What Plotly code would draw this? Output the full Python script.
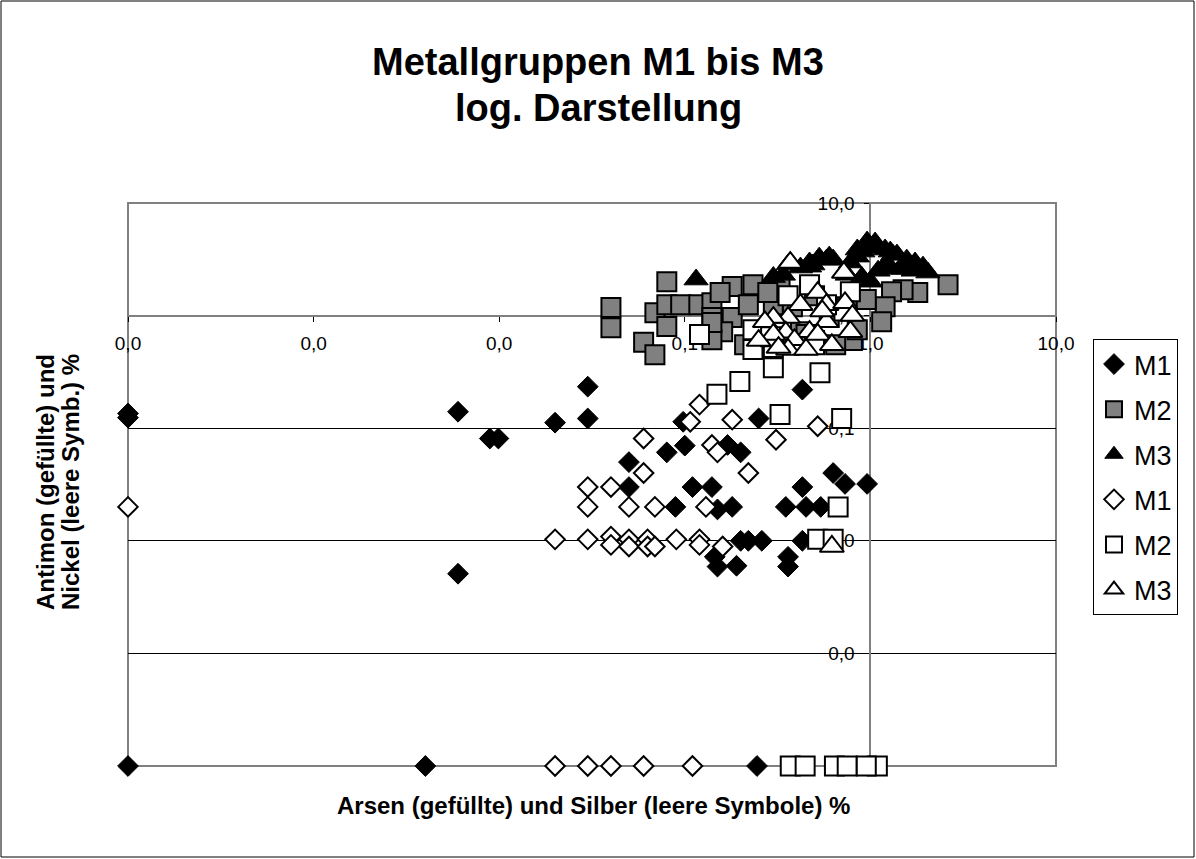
import plotly.graph_objects as go

# ---- data ----
m1_fill_x = [0.0001, 0.0001, 0.006, 0.006, 0.0089, 0.0099, 0.020, 0.030, 0.030, 0.050, 0.050, 0.098, 0.10, 0.080,
             0.43, 0.25, 0.17, 0.20, 0.11, 0.14, 0.089, 0.15, 0.18, 0.35, 0.45, 0.54, 0.43, 0.63, 0.73, 0.96,
             0.20, 0.22, 0.26, 0.43, 0.145, 0.15, 0.19, 0.36, 0.36, 0.0001, 0.004, 0.245]
m1_fill_y = [0.135, 0.124, 0.14, 0.0051, 0.081, 0.081, 0.112, 0.234, 0.122, 0.050, 0.030, 0.114, 0.070, 0.061,
             0.22, 0.122, 0.071, 0.061, 0.030, 0.030, 0.020, 0.019, 0.020, 0.020, 0.020, 0.020, 0.030, 0.040, 0.032, 0.032,
             0.010, 0.010, 0.010, 0.010, 0.0072, 0.0059, 0.006, 0.0072, 0.0059, 0.0001, 0.0001, 0.0001]

m2_fill_x = [0.04, 0.04, 0.08, 0.069, 0.08, 0.095, 0.119, 0.08, 0.06, 0.069, 0.14, 0.14, 0.18, 0.233, 0.18,
             0.16, 0.14, 0.22, 0.21, 0.326, 0.155, 0.14, 2.62, 1.8, 1.5, 1.3, 1.2, 1.15, 0.25, 0.3, 0.42, 0.6,
             0.75, 0.95, 0.8, 0.3, 0.38, 0.5, 0.28, 0.45, 0.65, 0.85, 0.26, 0.5]
m2_fill_y = [1.18, 0.78, 2.0, 1.06, 1.25, 1.25, 1.25, 0.80, 0.58, 0.45, 1.3, 0.96, 1.81, 1.88, 0.96,
             0.72, 0.61, 1.25, 0.55, 2.0, 1.6, 0.87, 1.88, 1.6, 1.7, 1.63, 1.2, 0.88, 0.55, 0.6, 0.72, 0.96,
             1.2, 1.39, 0.6, 1.25, 1.2, 1.5, 1.6, 0.68, 0.55, 0.75, 0.5, 0.6]

m3_fill_x = [0.115, 0.53, 0.63, 0.47, 0.96, 0.85, 1.09, 1.28, 1.32, 0.6, 0.78, 1.06, 1.2, 1.39, 1.57, 1.74,
             1.92, 2.04, 0.47, 0.58, 0.85, 0.91, 0.36, 0.42, 0.49, 0.3, 0.34, 0.75, 0.9, 1.1, 1.3, 1.0, 1.2, 1.5, 1.7]
m3_fill_y = [2.09, 3.27, 3.14, 2.96, 4.54, 3.86, 4.0, 3.7, 3.48, 3.34, 2.96, 4.45, 3.86, 3.48, 3.14, 2.96,
             2.72, 2.41, 2.72, 3.14, 3.34, 3.7, 2.84, 2.67, 2.84, 2.2, 2.3, 2.3, 2.2, 2.5, 2.6, 2.0, 2.8, 2.6, 2.5]

m1_open_x = [0.0001, 0.06, 0.06, 0.030, 0.040, 0.030, 0.050, 0.069, 0.020, 0.030, 0.040, 0.040, 0.050, 0.050,
             0.063, 0.063, 0.069, 0.090, 0.12, 0.12, 0.16, 0.12, 0.107, 0.18, 0.31, 0.14, 0.15, 0.22, 0.52, 0.13,
             0.020, 0.030, 0.040, 0.060, 0.11]
m1_open_y = [0.020, 0.081, 0.040, 0.030, 0.030, 0.020, 0.020, 0.020, 0.0103, 0.0103, 0.0109, 0.0092, 0.0103, 0.0089,
             0.0103, 0.0089, 0.0089, 0.0103, 0.0103, 0.0092, 0.0089, 0.162, 0.114, 0.119, 0.079, 0.071, 0.061, 0.040, 0.104, 0.020,
             0.0001, 0.0001, 0.0001, 0.0001, 0.0001]

m2_open_x = [0.198, 0.149, 0.535, 0.30, 0.326, 0.70, 0.67, 0.52, 0.63, 0.12, 0.233, 0.233, 0.47, 0.78, 0.36,
             0.5, 0.3, 0.72, 0.29, 0.58, 0.37, 0.445, 0.64, 0.75, 1.09, 0.95]
m2_open_y = [0.26, 0.20, 0.31, 0.345, 0.132, 0.122, 0.020, 0.0103, 0.0103, 0.68, 0.50, 0.75, 1.88, 1.63, 1.5,
             0.55, 0.52, 1.1, 0.65, 1.25, 0.0001, 0.0001, 0.0001, 0.0001, 0.0001, 0.0001]

m3_open_x = [0.37, 0.72, 0.52, 0.42, 0.36, 0.30, 0.58, 0.73, 0.27, 0.35, 0.47, 0.58, 0.78, 0.30, 0.39, 0.36,
             0.45, 0.52, 0.32, 0.62, 0.55, 0.80, 0.25, 0.62]
m3_open_y = [2.96, 2.41, 1.6, 1.25, 0.96, 0.96, 1.25, 1.30, 0.88, 0.71, 0.72, 0.88, 0.72, 0.68, 0.61, 0.50,
             0.50, 0.68, 0.52, 0.55, 1.1, 1.0, 0.60, 0.0089]

tick_vals = [0.0001, 0.001, 0.01, 0.1, 1, 10]
tick_text = ["0,0", "0,0", "0,0", "0,1", "1,0", "10,0"]

title_line1 = "Metallgruppen M1 bis M3"
title_line2 = "log. Darstellung"
x_title = "Arsen (gefüllte) und Silber (leere Symbole) %"
y_title_line1 = "Antimon (gefüllte) und"
y_title_line2 = "Nickel (leere Symb.) %"

FONT = "Arial, Liberation Sans, sans-serif"

series = [
    ("M1", m1_fill_x, m1_fill_y, "diamond", 16, "black", 1),
    ("M2", m2_fill_x, m2_fill_y, "square", 19, "#808080", 2),
    ("M3", m3_fill_x, m3_fill_y, "triangle-up", 21, "black", 1),
    ("M1", m1_open_x, m1_open_y, "diamond", 15, "white", 2),
    ("M2", m2_open_x, m2_open_y, "square", 19, "white", 2),
    ("M3", m3_open_x, m3_open_y, "triangle-up", 21, "white", 2),
]

fig = go.Figure()
for i, (name, xs, ys, sym, size, color, lw) in enumerate(series):
    assert len(xs) == len(ys)
    fig.add_trace(go.Scatter(
        x=xs, y=ys, mode="markers", name=name, legendgroup=f"g{i}",
        cliponaxis=False,
        marker=dict(symbol=sym, size=size, color=color, line=dict(color="black", width=lw)),
    ))

# plot area: x 128..1056 px, y 203..766 px
PL, PW, PB, PH = 128, 928, 766, 563


def px(xp):
    return (xp - PL) / PW


def py(yp):
    return (PB - yp) / PH


fig.update_layout(
    width=1196, height=859,
    margin=dict(l=128, r=140, t=203, b=93),
    paper_bgcolor="white", plot_bgcolor="white",
    font=dict(family=FONT, color="black"),
    showlegend=True,
    legend=dict(
        x=px(1093), y=py(339), xanchor="left", yanchor="top",
        bordercolor="black", borderwidth=1,
        font=dict(family=FONT, size=27, color="black"),
        tracegroupgap=7, itemsizing="trace",
    ),
    xaxis=dict(
        type="log", range=[-4, 1], anchor="free", position=0.8,
        tickvals=tick_vals, ticktext=tick_text, ticks="outside", ticklen=5,
        tickcolor="black", showline=True, linecolor="#808080", linewidth=2,
        showgrid=False, zeroline=False, layer="below traces",
        tickfont=dict(family=FONT, size=19, color="black"),
        ticklabelstandoff=6,
    ),
    yaxis=dict(
        type="log", range=[-4, 1], anchor="free", position=0.8,
        tickvals=tick_vals, ticktext=tick_text, ticks="outside", ticklen=5,
        tickcolor="black", showline=True, linecolor="#808080", linewidth=2,
        showgrid=True, gridcolor="black", gridwidth=1, zeroline=False, layer="below traces",
        tickfont=dict(family=FONT, size=19, color="black"),
        ticklabelstandoff=6,
    ),
    shapes=[
        dict(type="rect", xref="paper", yref="paper", x0=0, x1=1, y0=0, y1=1,
             line=dict(color="#808080", width=2), layer="between"),
        dict(type="rect", xref="paper", yref="paper", x0=px(1), x1=px(1194), y0=py(857), y1=py(1),
             line=dict(color="black", width=1), layer="below"),
    ],
    annotations=[
        dict(text=f"<b>{title_line1}</b>", xref="paper", yref="paper", x=px(598), y=py(62),
             xanchor="center", yanchor="middle", showarrow=False, font=dict(family=FONT, size=38)),
        dict(text=f"<b>{title_line2}</b>", xref="paper", yref="paper", x=px(598), y=py(108),
             xanchor="center", yanchor="middle", showarrow=False, font=dict(family=FONT, size=38)),
        dict(text=f"<b>{x_title}</b>", xref="paper", yref="paper", x=px(593), y=py(805),
             xanchor="center", yanchor="middle", showarrow=False, font=dict(family=FONT, size=24)),
        dict(text=f"<b>{y_title_line1}</b>", xref="paper", yref="paper", x=px(45), y=py(482),
             xanchor="center", yanchor="middle", textangle=-90, showarrow=False, font=dict(family=FONT, size=24)),
        dict(text=f"<b>{y_title_line2}</b>", xref="paper", yref="paper", x=px(70), y=py(482),
             xanchor="center", yanchor="middle", textangle=-90, showarrow=False, font=dict(family=FONT, size=24)),
    ],
)

fig.write_html(
    "out.html",
    config={"displayModeBar": False},
    post_script="document.body.style.margin='0';document.body.style.overflow='hidden';",
)
